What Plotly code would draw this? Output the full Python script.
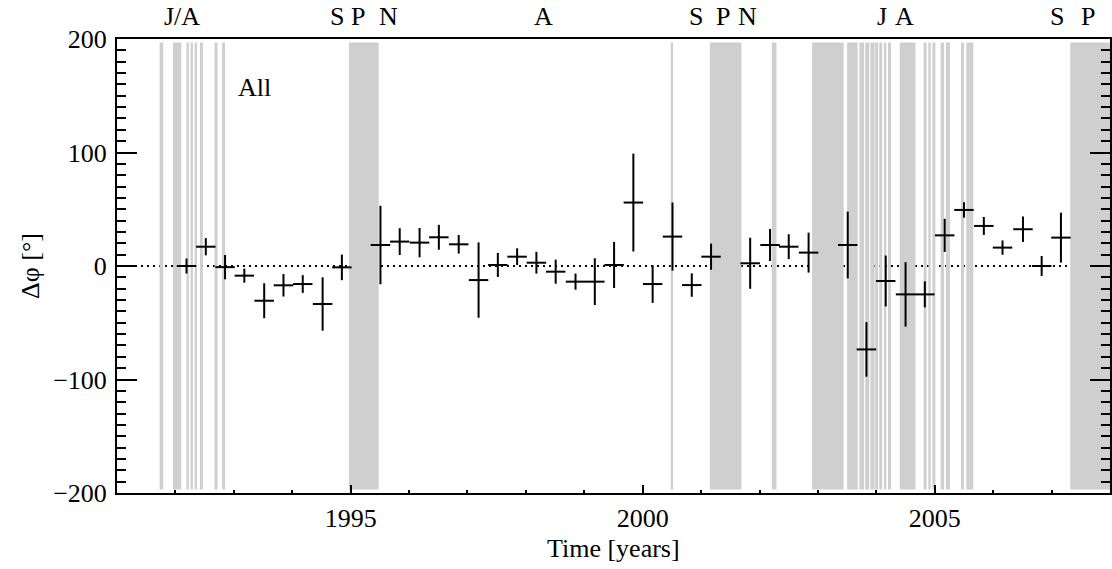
import plotly.graph_objects as go

# measured phase offsets, one per 4-month bin
times = [1992.19, 1992.52, 1992.85, 1993.18, 1993.52, 1993.85, 1994.18, 1994.52,
         1994.85, 1995.51, 1995.84, 1996.18, 1996.51, 1996.85, 1997.19, 1997.52,
         1997.85, 1998.18, 1998.51, 1998.85, 1999.18, 1999.51, 1999.84, 2000.17,
         2000.51, 2000.84, 2001.17, 2001.84, 2002.18, 2002.50, 2002.84, 2003.51,
         2003.83, 2004.16, 2004.50, 2004.83, 2005.17, 2005.50, 2005.84, 2006.16,
         2006.51, 2006.83, 2007.16]
dphi = [0, 17, -1, -8.5, -30.6, -17, -15.9, -33.5, -1.2, 18.5, 21.5, 20.6, 25.3,
        19.1, -12.4, 0.9, 8.2, 2.9, -5, -13.8, -13.8, 0.9, 55.9, -15.9, 25.9,
        -16.8, 8.2, 2.4, 18.5, 17, 11.8, 18.5, -73.5, -13.2, -25, -25, 27, 49.4,
        35.3, 16.2, 32.4, 0, 25]
dphi_err = [6.6, 7.6, 10.7, 6.2, 15.4, 9.9, 7.8, 23.5, 11.3, 34.6, 11.8, 12.9, 11,
            8.2, 33.2, 10.6, 7.4, 9.6, 10.6, 7.1, 20.6, 20.3, 43.1, 16.6, 30, 10.3,
            11.5, 22.5, 14.1, 11, 17.6, 29.4, 24, 22.4, 28.4, 11.5, 14.6, 6.8, 7.9,
            6.3, 11.2, 8.8, 22]
bin_half = 1 / 6

# excluded intervals (gray bands)
band_start = [1991.73, 1991.96, 1992.19, 1992.26, 1992.33, 1992.42, 1992.67, 1992.80,
              1994.97, 2000.48, 2001.15, 2002.21, 2002.90, 2003.50, 2003.71, 2003.81,
              2003.90, 2003.98, 2004.05, 2004.13, 2004.20, 2004.40, 2004.81, 2004.89,
              2004.96, 2005.10, 2005.19, 2005.45, 2005.54, 2007.32]
band_end = [1991.79, 1992.10, 1992.23, 1992.30, 1992.37, 1992.47, 1992.72, 1992.85,
            1995.48, 2000.52, 2001.69, 2002.29, 2003.44, 2003.68, 2003.79, 2003.88,
            2003.97, 2004.03, 2004.10, 2004.17, 2004.25, 2004.67, 2004.86, 2004.93,
            2005.01, 2005.16, 2005.26, 2005.50, 2005.66, 2008.0]

event_labels = ["J/A", "S", "P", "N", "A", "S", "P", "N", "J", "A", "S", "P"]
event_times = [1992.12, 1994.77, 1995.13, 1995.64, 1998.30, 2000.91, 2001.38,
               2001.79, 2004.09, 2004.48, 2007.10, 2007.63]

FONT = "Liberation Serif, Times New Roman, serif"
FS = 26
BAND_H = 197

fig = go.Figure()

for x0, x1 in zip(band_start, band_end):
    fig.add_shape(type="rect", xref="x", yref="y", x0=x0, x1=x1, y0=-BAND_H, y1=BAND_H,
                  fillcolor="#cfcfcf", line_width=0, layer="below")

fig.add_shape(type="line", xref="paper", yref="y", x0=0, x1=1, y0=0, y1=0,
              line=dict(color="black", width=2, dash="2px,4px"), layer="below")

fig.add_trace(go.Scatter(
    x=times, y=dphi, mode="markers",
    marker=dict(size=1, color="black"),
    error_x=dict(type="constant", value=bin_half, color="black", thickness=2, width=0),
    error_y=dict(type="data", array=dphi_err, color="black", thickness=2, width=0),
    showlegend=False,
))

for lab, t in zip(event_labels, event_times):
    fig.add_annotation(x=t, xref="x", y=1, yref="paper", yshift=23, text=lab,
                       showarrow=False, yanchor="middle",
                       font=dict(family=FONT, size=FS, color="black"))

fig.add_annotation(x=1993.03, y=157, xref="x", yref="y", text="All", showarrow=False,
                   xanchor="left", font=dict(family=FONT, size=FS, color="black"))
fig.add_annotation(x=0.5, y=0, xref="paper", yref="paper", yshift=-55,
                   text="Time [years]", showarrow=False, yanchor="middle",
                   font=dict(family=FONT, size=FS, color="black"))
fig.add_annotation(x=0, y=0.5, xref="paper", yref="paper", xshift=-87,
                   text="Δφ [°]", textangle=-90, showarrow=False, xanchor="center",
                   font=dict(family=FONT, size=FS, color="black"))

fig.update_layout(
    width=1112, height=569,
    margin=dict(l=117, r=0, t=39, b=76),
    paper_bgcolor="white", plot_bgcolor="white",
    font=dict(family=FONT, size=FS, color="black"),
    xaxis=dict(
        range=[1991, 2008], showgrid=False, zeroline=False,
        showline=True, linecolor="black", linewidth=2, mirror=True,
        tick0=1995, dtick=5, ticks="inside", ticklen=8, tickwidth=2, tickcolor="black",
        minor=dict(dtick=1, ticks="inside", ticklen=3, tickwidth=2, tickcolor="black"),
        ticklabelstandoff=1,
    ),
    xaxis2=dict(
        range=[1991, 2008], overlaying="x", side="top", anchor="y",
        showgrid=False, zeroline=False, showticklabels=False,
        showline=True, linecolor="black", linewidth=2,
        tick0=1991, dtick=1, ticks="inside", ticklen=3, tickwidth=2, tickcolor="black",
    ),
    yaxis=dict(
        range=[-200, 200], showgrid=False, zeroline=False,
        showline=True, linecolor="black", linewidth=2, mirror="allticks",
        tick0=0, dtick=100, ticks="inside", ticklen=20, tickwidth=2, tickcolor="black",
        minor=dict(dtick=10, ticks="inside", ticklen=9, tickwidth=2, tickcolor="black"),
        ticklabelstandoff=3,
    ),
)

# drop the default page margin so the figure sits at the window's top-left corner
fig.write_html("out.html", config={"displayModeBar": False},
               post_script="document.body.style.margin='0';")
